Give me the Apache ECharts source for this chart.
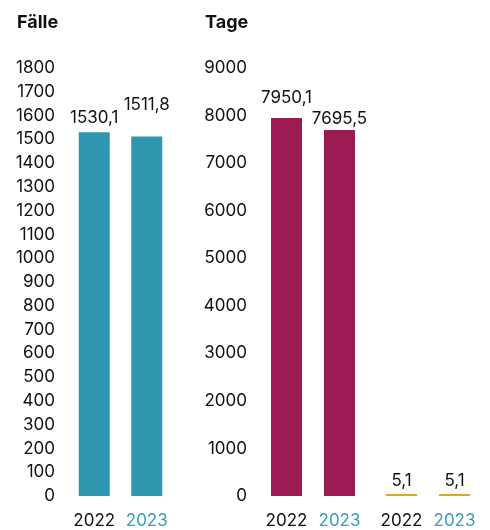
<!DOCTYPE html>
<html>
<head>
<meta charset="utf-8">
<script src="https://cdn.jsdelivr.net/npm/echarts@6/dist/echarts.min.js"></script>
<style>
  html, body { margin: 0; padding: 0; background: #fff; }
  #chart { width: 490px; height: 530px; }
</style>
</head>
<body>
<div id="chart"></div>
<script>
// Jahre und Kennzahlen
const years = ['2022', '2023'];
const faelle = [1530.1, 1511.8];
const tage = [7950.1, 7695.5];
const tageProFall = [5.1, 5.1];

const FONT = 'Inter, "Noto Sans", sans-serif';
const TEAL = '#2E96AF';
const CRIMSON = '#9B1B52';
const ORANGE = '#E0A528';
const TEXT = '#111';
const FS = 17;

const fmt = v => v.toFixed(1).replace('.', ',');

// label spacing above each bar, per panel
const labelGap = {
  faelle: [6, 23],
  tage: [12, 3],
  proFall: [5, 5]
};

const gridTop = 68, gridBottom = 34;
const grids = [
  { left: 68, width: 105, top: gridTop, bottom: gridBottom },
  { left: 260, width: 106, top: gridTop, bottom: gridBottom },
  { left: 375, width: 106, top: gridTop, bottom: gridBottom }
];

function xAxis(gridIndex) {
  return {
    type: 'category', gridIndex, data: years,
    axisLine: { show: false }, axisTick: { show: false },
    axisLabel: {
      interval: 0, hideOverlap: false,
      margin: 16, fontFamily: FONT, fontSize: FS,
      color: (v, i) => (i === 1 ? '#3A9DB7' : TEXT)
    }
  };
}

function yAxis(gridIndex, max, interval, showLabels) {
  return {
    type: 'value', gridIndex, min: 0, max, interval,
    splitLine: { show: false }, axisLine: { show: false }, axisTick: { show: false },
    axisLabel: {
      show: showLabels, margin: 13, fontFamily: FONT, fontSize: FS, color: TEXT,
      formatter: v => String(v)
    }
  };
}

function barSeries(idx, values, color, gaps) {
  return {
    type: 'bar', xAxisIndex: idx, yAxisIndex: idx,
    barWidth: 31, barMinHeight: 2,
    itemStyle: { color },
    data: values.map((v, i) => ({
      value: v,
      label: { distance: gaps[i] }
    })),
    label: {
      show: true, position: 'top',
      fontFamily: FONT, fontSize: FS, color: TEXT,
      formatter: p => fmt(p.value)
    }
  };
}

const titleStyle = { fontFamily: FONT, fontSize: 18, fontWeight: 'bold', color: TEXT };

const chart = echarts.init(document.getElementById('chart'));
chart.setOption({
  animation: false,
  backgroundColor: '#fff',
  title: [
    { text: 'Fälle', left: 17, top: 14, padding: 0, textStyle: titleStyle },
    { text: 'Tage', left: 205, top: 14, padding: 0, textStyle: titleStyle }
  ],
  grid: grids,
  xAxis: [xAxis(0), xAxis(1), xAxis(2)],
  yAxis: [yAxis(0, 1800, 100, true), yAxis(1, 9000, 1000, true), yAxis(2, 9000, 1000, false)],
  series: [
    barSeries(0, faelle, TEAL, labelGap.faelle),
    barSeries(1, tage, CRIMSON, labelGap.tage),
    barSeries(2, tageProFall, ORANGE, labelGap.proFall)
  ]
});
</script>
</body>
</html>
